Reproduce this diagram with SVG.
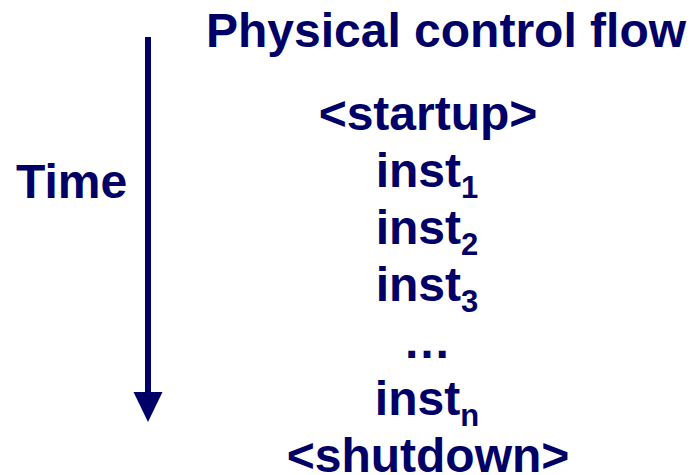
<svg xmlns="http://www.w3.org/2000/svg" width="694" height="475" viewBox="0 0 694 475">
  <style>
    .t { font-family: "Liberation Sans", Arial, sans-serif; font-weight: bold; font-size: 48px; fill: #000066; }
    .c { text-anchor: middle; }
    .sub { font-size: 31px; }
  </style>
  <defs>
    <marker id="head" markerUnits="userSpaceOnUse" markerWidth="30" markerHeight="31" refX="0" refY="15" orient="auto" viewBox="0 0 31 30">
      <path d="M0,0 L31,15 L0,30 Z" fill="#000066"/>
    </marker>
  </defs>
  <rect width="694" height="475" fill="#ffffff"/>
  <g id="connectors">
    <line x1="148" y1="37" x2="148" y2="392" stroke="#000066" stroke-width="6" marker-end="url(#head)"/>
  </g>
  <g id="title"><text class="t c" x="446" y="47">Physical control flow</text></g>
  <g id="time"><text class="t" x="16" y="198">Time</text></g>
  <g id="startup"><text class="t c" x="428" y="130">&lt;startup&gt;</text></g>
  <g id="inst1"><text class="t c" x="427" y="187">inst<tspan class="sub" dy="11">1</tspan></text></g>
  <g id="inst2"><text class="t c" x="427" y="244">inst<tspan class="sub" dy="11">2</tspan></text></g>
  <g id="inst3"><text class="t c" x="427" y="301">inst<tspan class="sub" dy="11">3</tspan></text></g>
  <g id="ellipsis"><text class="t c" x="427" y="358">…</text></g>
  <g id="instn"><text class="t c" x="427" y="415">inst<tspan class="sub" dy="11">n</tspan></text></g>
  <g id="shutdown"><text class="t c" x="428" y="472">&lt;shutdown&gt;</text></g>
</svg>
